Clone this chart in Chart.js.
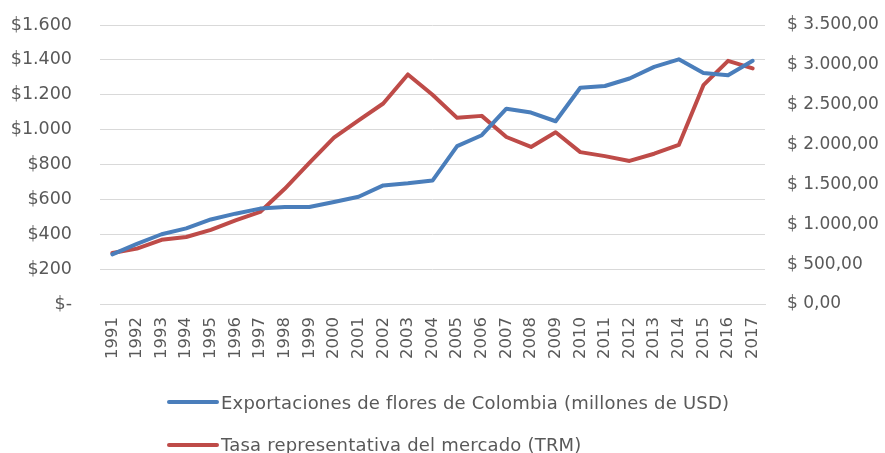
<!DOCTYPE html>
<html>
<head>
<meta charset="utf-8">
<script src="https://cdn.jsdelivr.net/npm/chart.js@4.4.1/dist/chart.umd.min.js"></script>
<style>
  html, body { margin: 0; padding: 0; background: #ffffff; }
  #wrap { position: relative; width: 885px; height: 453px; overflow: hidden; }
  #legend { position: absolute; left: 167px; top: 381px; font-family: "DejaVu Sans", sans-serif; font-size: 18px; letter-spacing: 0.2px; color: #595959; }
  .item { display: flex; align-items: center; height: 42.5px; white-space: nowrap; }
  .swatch { width: 52px; height: 4px; border-radius: 2px; margin-right: 2px; }
</style>
</head>
<body>
<div id="wrap">
  <canvas id="c" width="885" height="453"></canvas>
  <div id="legend"></div>
</div>
<script>
const years = ["1991","1992","1993","1994","1995","1996","1997","1998","1999","2000","2001","2002","2003","2004","2005","2006","2007","2008","2009","2010","2011","2012","2013","2014","2015","2016","2017"];
const exportsUSD = [285, 345, 400, 434, 485, 518, 547, 556, 556, 585, 615, 680, 692, 708, 905, 968, 1120, 1098, 1048, 1240, 1250, 1293, 1360, 1403, 1325, 1312, 1395];
const trm = [640, 695, 805, 840, 930, 1050, 1155, 1445, 1770, 2086, 2305, 2515, 2880, 2625, 2335, 2360, 2095, 1970, 2155, 1905, 1855, 1795, 1885, 1995, 2745, 3050, 2955];
const seriesNames = ["Exportaciones de flores de Colombia (millones de USD)", "Tasa representativa del mercado (TRM)"];
const leftTicks = [0, 200, 400, 600, 800, 1000, 1200, 1400, 1600];
const rightTicks = [0, 500, 1000, 1500, 2000, 2500, 3000, 3500];

const BLUE = "#4A7EBB";
const RED = "#BE4B48";
const TXT = "#595959";
const FONT = "'DejaVu Sans', sans-serif";

function thousands(n) {
  return String(Math.round(n)).replace(/\B(?=(\d{3})+(?!\d))/g, ".");
}

function fitVertical(width) {
  return (s) => { s.width = width; s.paddingTop = 10; s.paddingBottom = 10; };
}

const chart = new Chart(document.getElementById("c"), {
  type: "line",
  data: {
    labels: years,
    datasets: [
      { label: seriesNames[0], data: exportsUSD, borderColor: BLUE, backgroundColor: BLUE, borderWidth: 4, pointRadius: 0, tension: 0, yAxisID: "y", borderCapStyle: "round", borderJoinStyle: "round" },
      { label: seriesNames[1], data: trm, borderColor: RED, backgroundColor: RED, borderWidth: 4, pointRadius: 0, tension: 0, yAxisID: "y1", borderCapStyle: "round", borderJoinStyle: "round" }
    ]
  },
  options: {
    responsive: false,
    animation: false,
    layout: { padding: { top: 25, bottom: 73, left: 0, right: 0 } },
    plugins: { legend: { display: false }, tooltip: { enabled: false } },
    scales: {
      x: {
        offset: true,
        grid: { display: false, drawTicks: false },
        border: { display: true, color: "#D9D9D9", width: 1 },
        ticks: { color: TXT, font: { family: FONT, size: 16.5 }, minRotation: 90, maxRotation: 90, padding: 13, autoSkip: false },
        afterFit: (s) => { s.height = 76; }
      },
      y: {
        position: "left",
        min: 0, max: 1600,
        afterBuildTicks: (s) => { s.ticks = leftTicks.map(v => ({ value: v })); },
        grid: { color: "#D9D9D9", lineWidth: 1, drawTicks: false },
        border: { display: false },
        ticks: { color: TXT, font: { family: FONT, size: 17.5 }, padding: 28,
          callback: (v) => v === 0 ? "$-" : "$" + thousands(v) },
        afterFit: fitVertical(100)
      },
      y1: {
        position: "right",
        min: 0, max: 3500,
        afterBuildTicks: (s) => { s.ticks = rightTicks.map(v => ({ value: v })); },
        grid: { display: false, drawTicks: false },
        border: { display: false },
        ticks: { color: TXT, font: { family: FONT, size: 17 }, padding: 22,
          callback: (v) => "$ " + thousands(v) + ",00" },
        afterFit: fitVertical(120)
      }
    }
  }
});

const legend = document.getElementById("legend");
chart.data.datasets.forEach(ds => {
  const row = document.createElement("div");
  row.className = "item";
  const sw = document.createElement("span");
  sw.className = "swatch";
  sw.style.background = ds.borderColor;
  const tx = document.createElement("span");
  tx.textContent = ds.label;
  row.appendChild(sw);
  row.appendChild(tx);
  legend.appendChild(row);
});
</script>
</body>
</html>
